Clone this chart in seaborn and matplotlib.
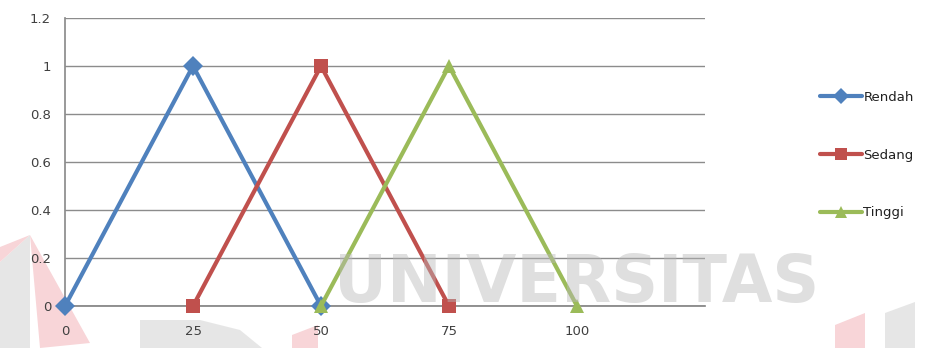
import matplotlib
matplotlib.use("Agg")
import matplotlib.pyplot as plt
import matplotlib.patches as mpatches
import numpy as np
import pandas as pd
import seaborn as sns

# Membership functions (triangular)
x_rendah = [0, 25, 50]
y_rendah = [0, 1, 0]
x_sedang = [25, 50, 75]
y_sedang = [0, 1, 0]
x_tinggi = [50, 75, 100]
y_tinggi = [0, 1, 0]
series_names = ["Rendah", "Sedang", "Tinggi"]
x_ticks = [0, 25, 50, 75, 100]
y_ticks = [0, 0.2, 0.4, 0.6, 0.8, 1, 1.2]
y_tick_labels = ["0", "0.2", "0.4", "0.6", "0.8", "1", "1.2"]

colors = ["#4F81BD", "#C0504D", "#9BBB59"]

df = pd.concat([
    pd.DataFrame({"x": x_rendah, "y": y_rendah, "series": "Rendah"}),
    pd.DataFrame({"x": x_sedang, "y": y_sedang, "series": "Sedang"}),
    pd.DataFrame({"x": x_tinggi, "y": y_tinggi, "series": "Tinggi"}),
], ignore_index=True)

sns.set_theme(style="white")
plt.rcParams["font.family"] = ["DejaVu Sans"]

fig = plt.figure(figsize=(9.38, 3.48), dpi=100)
ax = fig.add_axes([65 / 938, 1 - 306 / 348, 640 / 938, 288 / 348])

sns.lineplot(data=df, x="x", y="y", hue="series", style="series",
             hue_order=series_names, style_order=series_names,
             palette=colors, markers=["D", "s", "^"], dashes=False,
             linewidth=3.0, markersize=10, markeredgewidth=0,
             sort=False, estimator=None, ax=ax, legend=False, clip_on=False,
             zorder=3)

ax.set_xlim(0, 125)
ax.set_ylim(0, 1.2)
ax.set_yticks(y_ticks)
ax.set_yticklabels(y_tick_labels)
ax.set_xticks(x_ticks)
ax.set_xticklabels([str(v) for v in x_ticks])
ax.yaxis.grid(True, color="#8C8C8C", linewidth=1.0)
ax.xaxis.grid(False)
ax.set_xlabel("")
ax.set_ylabel("")
for side in ["top", "right"]:
    ax.spines[side].set_visible(False)
ax.spines["left"].set_color("#8C8C8C")
ax.spines["bottom"].set_color("#7F7F7F")
ax.spines["bottom"].set_linewidth(1.2)
ax.tick_params(axis="y", labelsize=9.5, colors="#404040", pad=10, length=0)
ax.tick_params(axis="x", labelsize=9.5, colors="#404040", pad=14, length=0)

# Legend on the right
handles = [plt.Line2D([0], [0], color=c, marker=m, linewidth=3, markersize=8,
                      markeredgewidth=0)
           for c, m in zip(colors, ["D", "s", "^"])]
fig.legend(handles, series_names, loc="center left",
           bbox_to_anchor=(808 / 938, 1 - 155 / 348), frameon=False,
           fontsize=9.5, labelspacing=3.4, handlelength=3.2,
           handletextpad=0.1, labelcolor="#202020")

# Repository watermark
fig.text(577 / 938, 1 - 284 / 348, "UNIVERSITAS", ha="center", va="center",
         fontsize=47, fontweight="semibold", color="#B8B8B8", alpha=0.45,
         zorder=10)
shapes = [
    ([(0, 262), (30, 235), (30, 348), (0, 348)], "#E6E6E6"),
    ([(0, 247), (30, 235), (0, 262)], "#F8D5D8"),
    ([(30, 235), (90, 343), (40, 348)], "#F8D5D8"),
    ([(140, 320), (200, 320), (240, 330), (262, 348), (140, 348)], "#E6E6E6"),
    ([(292, 335), (318, 325), (318, 348), (292, 348)], "#F8D5D8"),
    ([(835, 325), (865, 313), (865, 348), (835, 348)], "#F8D5D8"),
    ([(885, 313), (915, 302), (915, 348), (885, 348)], "#E6E6E6"),
]
for pts, col in shapes:
    poly = [(px / 938, 1 - py / 348) for px, py in pts]
    fig.patches.append(mpatches.Polygon(poly, closed=True, transform=fig.transFigure,
                                        facecolor=col, edgecolor="none", zorder=-1))

fig.savefig("out.png", dpi=100)
